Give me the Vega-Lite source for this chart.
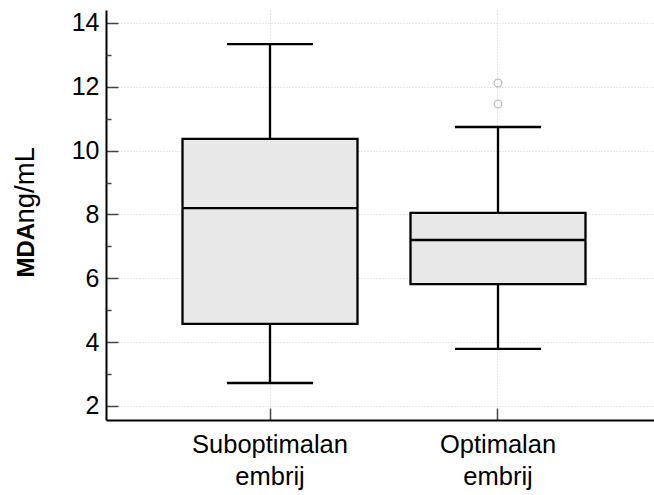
{
  "$schema": "https://vega.github.io/schema/vega-lite/v6.json",
  "autosize": "none",
  "width": 548,
  "height": 410,
  "padding": {"left": 106, "top": 10, "right": 0, "bottom": 75},
  "background": "white",
  "config": {
    "view": {"stroke": null},
    "font": "Liberation Sans",
    "axis": {"labelFont": "Liberation Sans", "titleFont": "Liberation Sans", "labelColor": "#000", "titleColor": "#000"}
  },
  "datasets": {
    "box": [
      {"group": "Suboptimalan embrij", "lower": 2.72, "q1": 4.57, "median": 8.2, "q3": 10.37, "upper": 13.34},
      {"group": "Optimalan embrij", "lower": 3.79, "q1": 5.82, "median": 7.2, "q3": 8.05, "upper": 10.74}
    ],
    "out": [
      {"group": "Optimalan embrij", "value": 12.12},
      {"group": "Optimalan embrij", "value": 11.46}
    ]
  },
  "data": {"name": "box"},
  "layer": [
    {
      "mark": {"type": "rule", "color": "#000", "strokeWidth": 2.3},
      "encoding": {
        "x": {
          "field": "group", "type": "nominal",
          "sort": ["Suboptimalan embrij", "Optimalan embrij"],
          "scale": {"range": [0, 556], "paddingInner": 0, "paddingOuter": 0.2193},
          "axis": {
            "title": null, "labelAngle": 0, "labelFontSize": 25.5, "labelExpr": "split(datum.label, ' ')",
            "labelLineHeight": 32, "labelPadding": 24, "labelBaseline": "top",
            "domainColor": "#000", "domainWidth": 2,
            "tickSize": -12, "tickColor": "#444", "tickWidth": 1.5,
            "grid": true, "gridDash": [1, 2], "gridColor": "#cfcfcf", "gridWidth": 1
          }
        },
        "y": {
          "field": "lower", "type": "quantitative",
          "scale": {"domain": [1.561, 14.406], "nice": false, "zero": false},
          "axis": {
            "values": [2, 4, 6, 8, 10, 12, 14],
            "title": "MDA", "titleFontWeight": "bold", "titleFontSize": 24,
            "titleAngle": 270, "titleAlign": "left", "titleBaseline": "alphabetic",
            "titleX": -73, "titleY": 267,
            "labelFontSize": 25, "labelPadding": 19,
            "domainColor": "#000", "domainWidth": 2,
            "tickSize": -12, "tickColor": "#444", "tickWidth": 1.5,
            "grid": true, "gridDash": [1, 2], "gridColor": "#cfcfcf", "gridWidth": 1
          }
        },
        "y2": {"field": "upper"}
      }
    },
    {
      "mark": {"type": "bar", "size": 175, "fill": "#e8e8e8", "stroke": "#000", "strokeWidth": 2.3},
      "encoding": {
        "x": {"field": "group", "type": "nominal", "sort": ["Suboptimalan embrij", "Optimalan embrij"]},
        "y": {"field": "q1", "type": "quantitative", "axis": null},
        "y2": {"field": "q3"}
      }
    },
    {
      "mark": {"type": "tick", "size": 175, "thickness": 2.3, "color": "#000", "opacity": 1},
      "encoding": {
        "x": {"field": "group", "type": "nominal", "sort": ["Suboptimalan embrij", "Optimalan embrij"]},
        "y": {"field": "median", "type": "quantitative", "axis": null}
      }
    },
    {
      "mark": {"type": "tick", "size": 86, "thickness": 2.3, "color": "#000", "opacity": 1},
      "encoding": {
        "x": {"field": "group", "type": "nominal", "sort": ["Suboptimalan embrij", "Optimalan embrij"]},
        "y": {"field": "upper", "type": "quantitative", "axis": null}
      }
    },
    {
      "mark": {"type": "tick", "size": 86, "thickness": 2.3, "color": "#000", "opacity": 1},
      "encoding": {
        "x": {"field": "group", "type": "nominal", "sort": ["Suboptimalan embrij", "Optimalan embrij"]},
        "y": {
          "field": "lower", "type": "quantitative",
          "axis": {
            "orient": "left",
            "values": [3, 5, 7, 9, 11, 13],
            "labels": false, "domain": false, "grid": false,
            "tickSize": -5, "tickColor": "#444", "tickWidth": 1.5,
            "title": "ng/mL", "titleFontWeight": "normal", "titleFontSize": 27.5,
            "titleAngle": 270, "titleAlign": "left", "titleBaseline": "alphabetic",
            "titleX": -73, "titleY": 213
          }
        }
      }
    },
    {
      "data": {"name": "out"},
      "mark": {"type": "point", "shape": "circle", "filled": false, "size": 60, "stroke": "#bdbdbd", "strokeWidth": 1.3, "opacity": 1},
      "encoding": {
        "x": {"field": "group", "type": "nominal", "sort": ["Suboptimalan embrij", "Optimalan embrij"]},
        "y": {"field": "value", "type": "quantitative", "axis": null}
      }
    }
  ],
  "resolve": {"axis": {"y": "independent"}}
}
